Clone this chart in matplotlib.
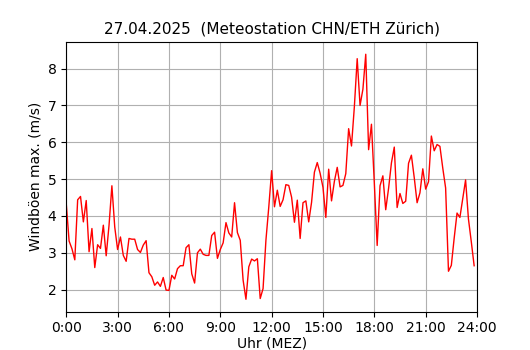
import matplotlib
matplotlib.use("Agg")
import matplotlib.pyplot as plt
import numpy as np

# Windboeen, 10-Minuten-Werte vom 27.04.2025 (m/s)
boeen = [4.33, 3.32, 3.11, 2.81, 4.44, 4.53, 3.84, 4.42, 3.03, 3.66, 2.60, 3.22,
         3.12, 3.75, 2.92, 3.75, 4.82, 3.70, 3.09, 3.43, 2.93, 2.77, 3.39, 3.37,
         3.37, 3.09, 3.01, 3.21, 3.33, 2.46, 2.35, 2.12, 2.21, 2.09, 2.33, 1.99,
         1.98, 2.39, 2.29, 2.57, 2.65, 2.65, 3.14, 3.22, 2.43, 2.18, 3.00, 3.10,
         2.96, 2.93, 2.93, 3.47, 3.56, 2.85, 3.09, 3.27, 3.82, 3.54, 3.43, 4.36,
         3.55, 3.34, 2.26, 1.74, 2.62, 2.83, 2.78, 2.84, 1.76, 2.03, 3.34, 4.24,
         5.23, 4.25, 4.70, 4.26, 4.44, 4.85, 4.83, 4.51, 3.83, 4.43, 3.39, 4.36,
         4.41, 3.84, 4.37, 5.19, 5.45, 5.16, 4.78, 3.96, 5.27, 4.41, 4.94, 5.32,
         4.79, 4.83, 5.15, 6.37, 5.90, 6.96, 8.27, 7.00, 7.44, 8.39, 5.80, 6.49,
         4.90, 3.20, 4.82, 5.09, 4.17, 4.75, 5.44, 5.87, 4.23, 4.61, 4.34, 4.40,
         5.43, 5.65, 5.04, 4.36, 4.63, 5.28, 4.73, 4.93, 6.17, 5.77, 5.94, 5.89,
         5.30, 4.76, 2.50, 2.66, 3.40, 4.08, 3.96, 4.47, 4.98, 3.92, 3.30, 2.65]
stunden = np.arange(len(boeen)) / 6.0

tick_pos = list(range(0, 25, 3))
tick_labels = ["%d:00" % h for h in tick_pos]

fig, ax = plt.subplots(figsize=(5.3, 3.5), dpi=100)
ax.plot(stunden, boeen, color="red", linewidth=1)
ax.set_xlim(0, 24)
ax.set_xticks(tick_pos)
ax.set_xticklabels(tick_labels)
ax.grid(True)
ax.set_title("27.04.2025  (Meteostation CHN/ETH Zürich)", fontsize=11)
ax.set_xlabel("Uhr (MEZ)", labelpad=1)
ax.set_ylabel("Windböen max. (m/s)")

fig.savefig("out.png", dpi=100)
